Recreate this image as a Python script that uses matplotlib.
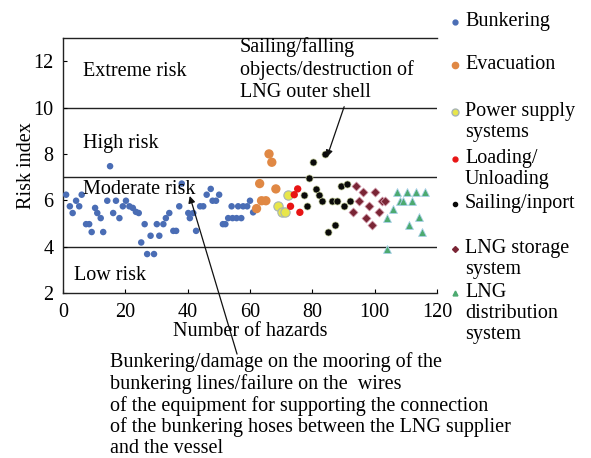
import matplotlib
matplotlib.use("Agg")
import matplotlib.pyplot as plt
from matplotlib.lines import Line2D

plt.rcParams['font.family'] = ['Liberation Serif', 'DejaVu Serif']
plt.rcParams['mathtext.fontset'] = 'stix'

# ---- data ----
bunk_x = [1.0, 2.2, 3.1, 4.2, 5.2, 6.0, 7.4, 8.4, 9.2, 10.3, 11.0, 12.1, 12.9, 14.2, 15.1,
          16.1, 17.0, 18.1, 19.2, 20.2, 21.3, 22.4, 23.4, 24.3, 25.1, 26.2, 27.0, 29.2, 28.1,
          30.1, 30.9, 32.2, 33.0, 34.1, 35.4, 36.3, 37.3, 38.1, 40.2, 40.7, 41.8, 42.7, 44.0,
          45.0, 46.1, 47.4, 48.0, 49.1, 50.1, 51.3, 52.1, 53.0, 54.4, 55.7, 57.2, 54.1, 56.2,
          57.8, 59.1, 60.0, 61.0]
bunk_y = [6.24, 5.74, 5.45, 5.98, 5.74, 6.24, 4.97, 4.97, 4.63, 5.67, 5.45, 5.23, 4.63, 5.98, 7.47,
          5.45, 5.98, 5.23, 5.74, 5.98, 5.74, 5.67, 5.50, 5.45, 4.18, 4.97, 3.68, 3.68, 4.47,
          4.97, 4.47, 4.97, 5.23, 5.45, 4.68, 4.68, 5.74, 6.72, 5.45, 5.23, 5.45, 4.68, 5.74,
          5.74, 6.24, 6.49, 5.98, 5.98, 6.24, 4.97, 4.97, 5.23, 5.23, 5.23, 5.23, 5.74, 5.74,
          5.74, 5.74, 5.98, 5.48]
evac_x = [62.1, 63.1, 63.7, 65.1, 66.1, 67.0, 68.3]
evac_y = [5.64, 6.72, 5.98, 5.98, 8.00, 7.64, 6.49]
power_x = [69.1, 70.2, 71.2, 72.1]
power_y = [5.74, 5.48, 5.48, 6.24]
load_x = [73.0, 74.2, 75.3, 76.0]
load_y = [5.74, 6.24, 6.49, 5.48]
sail_x = [77.3, 78.2, 79.0, 80.3, 81.1, 82.1, 83.2, 84.1, 85.1, 86.2, 87.3, 88.0, 89.1, 90.1, 91.0, 92.1]
sail_y = [6.24, 5.74, 6.94, 7.64, 6.49, 6.24, 5.98, 8.00, 4.63, 5.98, 4.94, 5.98, 6.63, 5.74, 6.72, 5.98]
stor_x = [93.1, 94.0, 95.1, 96.1, 97.1, 98.2, 99.0, 100.1, 101.4, 102.2, 103.3]
stor_y = [5.48, 6.63, 5.98, 6.34, 5.23, 5.74, 4.94, 6.34, 5.48, 5.98, 5.98]
dist_x = [104.0, 104.0, 106.0, 107.1, 108.1, 109.2, 110.3, 111.1, 112.1, 113.2, 114.2, 115.3, 116.1]
dist_y = [5.23, 3.89, 5.64, 6.34, 5.98, 5.98, 6.34, 4.94, 5.98, 6.34, 5.28, 4.63, 6.34]

risk_lines = [10, 7, 4]
xticks = [0, 20, 40, 60, 80, 100, 120]
yticks = [2, 4, 6, 8, 10, 12]

FS = 14.5

fig = plt.figure(figsize=(5.91, 4.58), dpi=100)
ax = fig.add_axes([63/591, 1-293/458, (437-63)/591, (293-38)/458])
ax.set_xlim(0, 120)
ax.set_ylim(2, 13)

for v in risk_lines:
    ax.axhline(v, color='#222222', lw=1.0, zorder=1)

series = [
    (bunk_x, bunk_y, dict(marker='o', s=22, c='#4a6db5', edgecolors='none')),
    (evac_x, evac_y, dict(marker='o', s=45, c='#e08844', edgecolors='none')),
    (power_x, power_y, dict(marker='o', s=45, c='#e8e64a', edgecolors='#a8b4b4', linewidths=0.8)),
    (load_x, load_y, dict(marker='o', s=28, c='#e81414', edgecolors='none')),
    (sail_x, sail_y, dict(marker='o', s=26, c='#0a0a0a', edgecolors='#c8d0a0', linewidths=0.5)),
    (stor_x, stor_y, dict(marker='D', s=22, c='#7a2535', edgecolors='#e0b0c0', linewidths=0.5)),
    (dist_x, dist_y, dict(marker='^', s=32, c='#4caa70', edgecolors='#a8d0e8', linewidths=0.6)),
]
for xs, ys, kw in series:
    ax.scatter(xs, ys, zorder=3, **kw)

ax.set_xticks(xticks)
ax.set_yticks(yticks)
ax.tick_params(direction='in', length=3, width=0.8, labelsize=FS, pad=7)
ax.spines['right'].set_visible(False)
for sp in ['left', 'bottom', 'top']:
    ax.spines[sp].set_linewidth(1.0)
    ax.spines[sp].set_color('#222222')

ax.set_xlabel('Number of hazards', fontsize=FS, labelpad=0)
ax.set_ylabel('Risk index', fontsize=FS, labelpad=-2)

ax.text(6.5, 11.55, 'Extreme risk', fontsize=FS, va='center', ha='left')
ax.text(6.5, 8.45, 'High risk', fontsize=FS, va='center', ha='left')
ax.text(6.5, 6.45, 'Moderate risk', fontsize=FS, va='center', ha='left')
ax.text(3.5, 2.75, 'Low risk', fontsize=FS, va='center', ha='left')

# annotation 1
fig.text(240/591, 1-37/458, 'Sailing/falling\nobjects/destruction of\nLNG outer shell',
         fontsize=FS, va='top', ha='left', linespacing=1.2)
ax.annotate('', xy=(84.4, 7.75), xytext=(90.5, 10.15), xycoords='data', textcoords='data',
            arrowprops=dict(arrowstyle='-|>', color='#111111', lw=0.9, mutation_scale=10),
            annotation_clip=False)
# annotation 2
fig.text(110/591, 1-352/458,
         'Bunkering/damage on the mooring of the\nbunkering lines/failure on the  wires\n'
         'of the equipment for supporting the connection\nof the bunkering hoses between the LNG supplier\n'
         'and the vessel', fontsize=FS, va='top', ha='left', linespacing=1.13)
ax.annotate('', xy=(40.4, 6.3), xytext=(56.1, -0.75), xycoords='data', textcoords='data',
            arrowprops=dict(arrowstyle='-|>', color='#111111', lw=0.9, mutation_scale=10),
            annotation_clip=False)

# legend (manual)
leg = [
    ('Bunkering', 22, dict(marker='o', color='#4a6db5', ms=3.5)),
    ('Evacuation', 65, dict(marker='o', color='#e08844', ms=4.5)),
    ('Power supply\nsystems', 112, dict(marker='o', color='#e8e64a', ms=5, mec='#a8b4b4')),
    ('Loading/\nUnloading', 159, dict(marker='o', color='#e81414', ms=3.5)),
    ('Sailing/inport', 204, dict(marker='o', color='#0a0a0a', ms=3)),
    ('LNG storage\nsystem', 249, dict(marker='D', color='#7a2535', ms=3)),
    ('LNG\ndistribution\nsystem', 293, dict(marker='^', color='#4caa70', ms=3.5)),
]
for label, ypx, mk in leg:
    yf = 1 - ypx/458
    fig.add_artist(Line2D([455/591], [yf], linestyle='none', transform=fig.transFigure, **mk))
    fig.text(465/591, 1-(ypx-10)/458, label, fontsize=FS, va='top', ha='left', linespacing=1.15)

fig.savefig('out.png', dpi=100)
